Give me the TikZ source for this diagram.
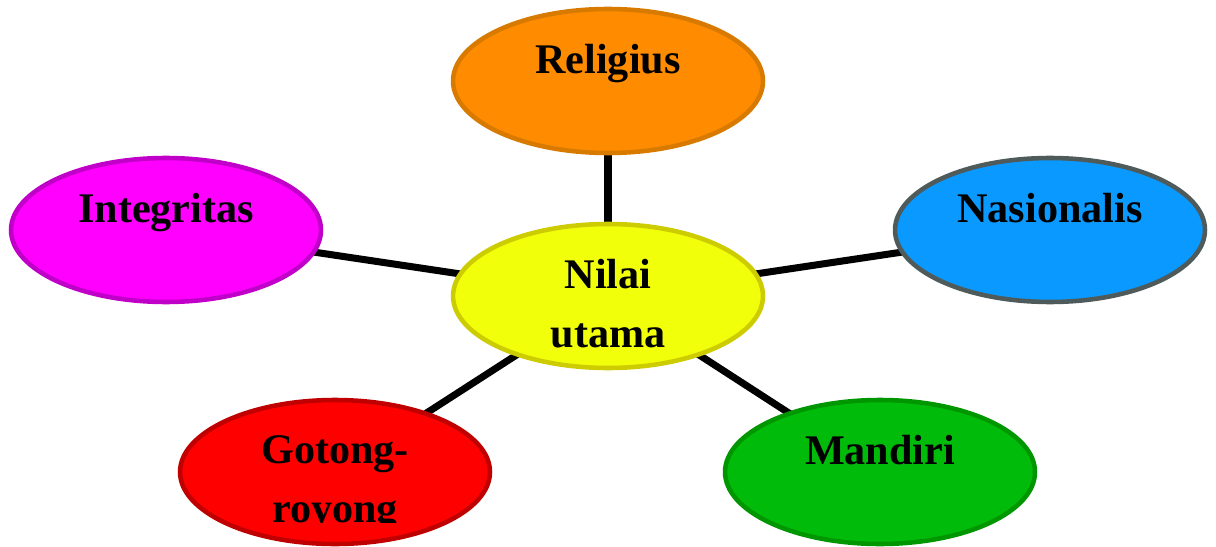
\documentclass[tikz,border=0pt]{standalone}
\usepackage{fontspec}
\setmainfont{Liberation Serif}
\usetikzlibrary{shapes.geometric,backgrounds}
\definecolor{relfill}{HTML}{FF8C00}\definecolor{relline}{HTML}{D87A00}
\definecolor{nilfill}{HTML}{F2FF0A}\definecolor{nilline}{HTML}{CCCC00}
\definecolor{intfill}{HTML}{FF00FF}\definecolor{intline}{HTML}{C000C8}
\definecolor{nasfill}{HTML}{0A9AFF}\definecolor{nasline}{HTML}{4F5A5A}
\definecolor{gotfill}{HTML}{FF0000}\definecolor{gotline}{HTML}{C00000}
\definecolor{manfill}{HTML}{00BB0A}\definecolor{manline}{HTML}{009600}
\tikzset{
  bubble/.style={ellipse, line width=2.6pt, minimum width=6.2cm, minimum height=2.88cm, inner sep=0pt},
  bubbletext/.style={anchor=north, align=center, inner sep=0pt, font=\fontsize{24}{33.6}\selectfont\bfseries},
  spoke/.style={line width=4pt}
}

\begin{document}
\begin{tikzpicture}[x=0.02cm, y=-0.02cm]
			%%%%% START %%%%%
			\useasboundingbox (0,0) rectangle (1216,547);
			
			\node[bubble, fill=nilfill, draw=nilline] (nilai) at (608, 296) {};
			\node[bubble, fill=relfill, draw=relline] (religius) at (608, 81) {};
			\node[bubble, fill=intfill, draw=intline] (integritas) at (166, 230) {};
			\node[bubble, fill=nasfill, draw=nasline] (nasionalis) at (1050, 230) {};
			\node[bubble, fill=gotfill, draw=gotline] (gotong) at (335, 472) {};
			\node[bubble, fill=manfill, draw=manline] (mandiri) at (880, 472) {};
			
			\begin{scope}[on background layer]
				\draw[spoke] (nilai.center) -- (religius.center);
				\draw[spoke] (nilai.center) -- (integritas.center);
				\draw[spoke] (nilai.center) -- (nasionalis.center);
				\draw[spoke] (nilai.center) -- (gotong.center);
				\draw[spoke] (nilai.center) -- (mandiri.center);
			\end{scope}
			
			\node[bubbletext] (nilai text) at ([yshift=0.74cm]nilai.center) {Nilai\\utama};
			\node[bubbletext] (religius text) at ([yshift=0.74cm]religius.center) {Religius};
			\node[bubbletext] (integritas text) at ([yshift=0.74cm]integritas.center) {Integritas};
			\node[bubbletext] (nasionalis text) at ([yshift=0.74cm]nasionalis.center) {Nasionalis};
			\node[bubbletext] (mandiri text) at ([yshift=0.74cm]mandiri.center) {Mandiri};
			
			\begin{scope}
				\clip (180, 380) rectangle (490, 522);
				\node[bubbletext] (gotong text) at ([yshift=0.74cm]gotong.center) {Gotong-\\royong};
			\end{scope}
			
			%%%%% END %%%%%
\end{tikzpicture}
\end{document}
